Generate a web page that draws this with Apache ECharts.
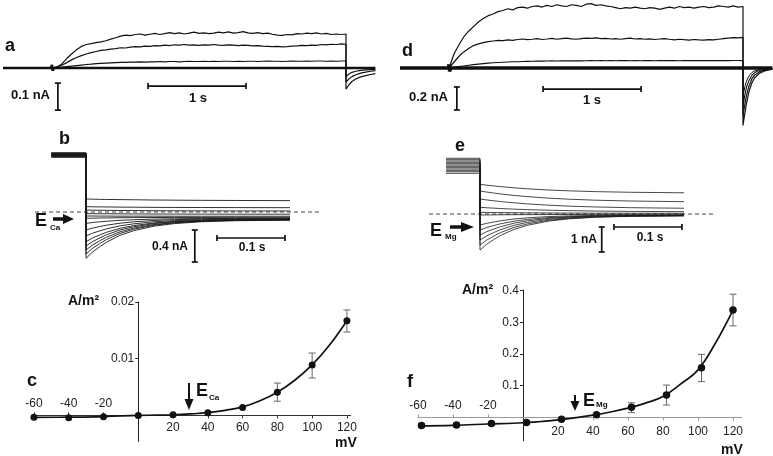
<!DOCTYPE html>
<html><head><meta charset="utf-8">
<script src="https://cdn.jsdelivr.net/npm/echarts@6/dist/echarts.min.js"></script>
<style>html,body{margin:0;padding:0;background:#fff}#chart{width:773px;height:456px}</style>
</head><body><div id="chart"></div>
<script>
const FONT = '"Liberation Sans", Arial, sans-serif';
const INK = '#111';

// ---------- panels a & d : long pulses (time s, current nA) ----------
const tPulse = [0,0.05,0.1,0.15,0.2,0.25,0.3,0.35,0.4,0.45,0.5,0.55,0.6,0.65,0.7,0.75,0.8,0.85,0.9,0.95,
  1,1.05,1.1,1.15,1.2,1.25,1.3,1.35,1.4,1.45,1.5,1.55,1.6,1.65,1.7,1.75,1.8,1.85,1.9,1.95,
  2,2.05,2.1,2.15,2.2,2.25,2.3,2.35,2.4,2.45,2.5,2.55,2.6,2.65,2.7,2.75,2.8,2.85,2.9,2.95,3];
const aTop = [0,0.004,0.015,0.035,0.052,0.068,0.080,0.087,0.090,0.094,
  0.097,0.101,0.107,0.112,0.118,0.122,0.120,0.124,0.126,0.122,
  0.125,0.128,0.124,0.127,0.131,0.127,0.130,0.126,0.129,0.133,
  0.128,0.130,0.127,0.129,0.133,0.130,0.134,0.129,0.131,0.135,
  0.130,0.128,0.131,0.127,0.129,0.125,0.122,0.121,0.124,0.123,
  0.127,0.126,0.129,0.127,0.130,0.126,0.128,0.124,0.126,0.124,0.126];
const aMid = [0,0.003,0.010,0.020,0.030,0.039,0.046,0.052,0.057,0.061,
  0.065,0.067,0.070,0.072,0.075,0.074,0.077,0.079,0.078,0.081,
  0.080,0.083,0.082,0.085,0.083,0.086,0.085,0.087,0.085,0.086,
  0.084,0.086,0.085,0.087,0.085,0.084,0.086,0.085,0.083,0.085,
  0.084,0.082,0.083,0.081,0.080,0.079,0.080,0.078,0.079,0.081,
  0.082,0.084,0.083,0.085,0.084,0.087,0.086,0.088,0.087,0.089,0.088];
const aLow = [0,0.001,0.003,0.005,0.007,0.009,0.011,0.013,0.014,0.016,
  0.017,0.018,0.019,0.020,0.021,0.021,0.022,0.022,0.023,0.022,
  0.023,0.023,0.024,0.023,0.024,0.024,0.023,0.024,0.025,0.024,
  0.024,0.025,0.024,0.025,0.024,0.025,0.025,0.024,0.025,0.024,
  0.025,0.025,0.024,0.025,0.026,0.025,0.025,0.024,0.025,0.026,
  0.025,0.025,0.026,0.025,0.026,0.026,0.025,0.026,0.025,0.026,0.026];
const tTailA = [3.0,3.01,3.03,3.06,3.1,3.15,3.2,3.25,3.3];
const aTopTail = [-0.078,-0.072,-0.062,-0.050,-0.041,-0.033,-0.028,-0.024,-0.021];
const aMidTail = [-0.052,-0.047,-0.040,-0.032,-0.025,-0.019,-0.015,-0.012,-0.010];
const aLowTail = [-0.033,-0.028,-0.022,-0.016,-0.012,-0.009,-0.007,-0.006,-0.005];
const tBase = [-0.5,-0.01,0,0.006,0.02,3.3];
const aBase = [0,0,0.012,-0.01,0,0];

const dTop = [0,0.120,0.200,0.270,0.320,0.360,0.400,0.430,0.455,0.470,
  0.490,0.500,0.515,0.505,0.525,0.530,0.520,0.535,0.540,0.530,
  0.545,0.535,0.550,0.540,0.535,0.550,0.545,0.535,0.555,0.560,
  0.545,0.550,0.540,0.535,0.525,0.515,0.525,0.520,0.530,0.520,
  0.515,0.525,0.520,0.510,0.520,0.530,0.520,0.535,0.525,0.530,
  0.520,0.530,0.535,0.525,0.530,0.540,0.535,0.530,0.540,0.530,0.535];
const dMid = [0,0.050,0.100,0.140,0.170,0.195,0.210,0.220,0.230,0.235,
  0.240,0.238,0.245,0.240,0.248,0.252,0.246,0.250,0.255,0.248,
  0.252,0.258,0.250,0.255,0.260,0.254,0.250,0.256,0.260,0.258,
  0.262,0.255,0.258,0.252,0.256,0.250,0.255,0.260,0.252,0.255,
  0.250,0.254,0.248,0.252,0.256,0.250,0.245,0.250,0.246,0.243,
  0.248,0.244,0.242,0.246,0.244,0.250,0.255,0.260,0.264,0.262,0.267];
const dLow = [0,0.006,0.012,0.018,0.024,0.029,0.034,0.038,0.042,0.045,
  0.048,0.050,0.052,0.054,0.055,0.057,0.058,0.059,0.060,0.060,
  0.061,0.062,0.061,0.062,0.063,0.062,0.063,0.062,0.063,0.064,
  0.063,0.064,0.063,0.064,0.063,0.064,0.064,0.063,0.064,0.063,
  0.064,0.064,0.063,0.064,0.065,0.064,0.064,0.063,0.064,0.065,
  0.064,0.064,0.065,0.064,0.065,0.064,0.065,0.064,0.065,0.065,0.064];
const tTailD = [3.0,3.01,3.02,3.035,3.06,3.09,3.12,3.17,3.22,3.3];
const dTopTail = [-0.50,-0.44,-0.39,-0.31,-0.21,-0.13,-0.085,-0.045,-0.025,-0.010];
const dMidTail = [-0.42,-0.36,-0.31,-0.24,-0.16,-0.095,-0.060,-0.032,-0.018,-0.008];
const dLowTail = [-0.34,-0.28,-0.23,-0.17,-0.11,-0.065,-0.040,-0.020,-0.012,-0.006];
const dBaseTail = [-0.25,-0.20,-0.16,-0.115,-0.07,-0.04,-0.025,-0.013,-0.008,-0.004];
const dBase = [0,0,0.03,-0.03,0,0];
const tBaseD2 = [-0.5,2.999];
const dBase2 = [0,0];

// ---------- panels b & e : tail currents (time s, current nA) ----------
const tStep = [0,0.01,0.02,0.03,0.05,0.07,0.1,0.13,0.17,0.22,0.3];
const bPre = [0.740,0.736,0.732,0.728,0.724,0.720,0.716,0.712,0.708,0.704,0.700,0.696,0.690,0.684];
const bTraces = [
  [0.163,0.160,0.158,0.157,0.155,0.153,0.150,0.148,0.146,0.144,0.142],
  [0.067,0.065,0.064,0.063,0.061,0.060,0.058,0.057,0.056,0.055,0.054],
  [0.025,0.023,0.022,0.021,0.019,0.018,0.016,0.015,0.014,0.013,0.013],
  [-0.020,-0.021,-0.022,-0.022,-0.023,-0.024,-0.025,-0.026,-0.026,-0.027,-0.027],
  [-0.050,-0.050,-0.051,-0.051,-0.052,-0.052,-0.052,-0.053,-0.053,-0.053,-0.053],
  [-0.079,-0.077,-0.075,-0.074,-0.072,-0.070,-0.069,-0.068,-0.068,-0.067,-0.067],
  [-0.142,-0.131,-0.123,-0.116,-0.104,-0.097,-0.089,-0.085,-0.082,-0.080,-0.079],
  [-0.225,-0.201,-0.182,-0.165,-0.140,-0.123,-0.106,-0.096,-0.089,-0.086,-0.084],
  [-0.300,-0.264,-0.237,-0.211,-0.173,-0.148,-0.122,-0.108,-0.098,-0.092,-0.089],
  [-0.371,-0.324,-0.287,-0.254,-0.204,-0.170,-0.137,-0.118,-0.105,-0.097,-0.093],
  [-0.425,-0.368,-0.325,-0.285,-0.225,-0.185,-0.145,-0.123,-0.107,-0.098,-0.093],
  [-0.475,-0.411,-0.361,-0.316,-0.248,-0.202,-0.157,-0.132,-0.113,-0.103,-0.098],
  [-0.525,-0.452,-0.396,-0.345,-0.268,-0.216,-0.165,-0.136,-0.115,-0.104,-0.098],
  [-0.579,-0.498,-0.435,-0.378,-0.292,-0.234,-0.177,-0.145,-0.122,-0.109,-0.102]
];
const ePre = [2.227,2.173,2.120,2.067,2.013,1.960,1.907,1.853,1.800,1.747,1.693,1.627];
const eTraces = [
  [1.187,1.153,1.122,1.095,1.047,1.007,0.961,0.927,0.895,0.870,0.848],
  [0.920,0.877,0.839,0.803,0.743,0.694,0.636,0.593,0.552,0.520,0.493],
  [0.600,0.563,0.529,0.499,0.447,0.404,0.354,0.316,0.281,0.253,0.230],
  [0.267,0.250,0.234,0.220,0.195,0.175,0.152,0.135,0.118,0.105,0.094],
  [0.067,0.063,0.060,0.057,0.051,0.047,0.042,0.038,0.034,0.031,0.029],
  [-0.040,-0.037,-0.035,-0.032,-0.028,-0.025,-0.022,-0.019,-0.017,-0.015,-0.013],
  [-0.440,-0.372,-0.320,-0.272,-0.200,-0.152,-0.104,-0.078,-0.058,-0.047,-0.042],
  [-0.640,-0.540,-0.464,-0.393,-0.288,-0.217,-0.147,-0.108,-0.079,-0.064,-0.055],
  [-0.840,-0.706,-0.604,-0.509,-0.368,-0.273,-0.179,-0.127,-0.088,-0.067,-0.056],
  [-1.040,-0.873,-0.746,-0.628,-0.452,-0.334,-0.217,-0.152,-0.104,-0.078,-0.064],
  [-1.240,-1.041,-0.888,-0.747,-0.536,-0.395,-0.255,-0.177,-0.120,-0.088,-0.072],
  [-1.440,-1.207,-1.028,-0.863,-0.616,-0.451,-0.287,-0.196,-0.129,-0.092,-0.072]
];

// ---------- panels c & f : I-V (mV, A/m2) ----------
const mvC = [-60,-40,-20,0,20,40,60,80,100,120];
const iC = [-0.00034,-0.0004,-0.00023,0,0.00012,0.00048,0.0014,0.0041,0.0089,0.0167];
const errHiC = [null,null,null,null,null,null,null,0.0057,0.011,0.0186];
const errLoC = [null,null,null,null,null,null,null,0.0025,0.0066,0.0147];
const fitMvC = [-60,-40,-20,0,10,20,30,40,50,60,70,80,90,100,110,120];
const fitIC = [-0.00035,-0.0003,-0.0002,0,0.00005,0.00012,0.00026,0.00048,0.0009,0.0015,0.0026,0.0041,0.0062,0.0089,0.0124,0.0167];
const mvF = [-58,-38,-18,2,22,42,62,82,102,120];
const iF = [-0.026,-0.024,-0.019,-0.016,-0.006,0.008,0.032,0.071,0.157,0.339];
const errHiF = [-0.020,-0.018,-0.013,-0.010,null,null,0.046,0.102,0.199,0.389];
const errLoF = [-0.032,-0.030,-0.025,-0.022,null,null,0.015,0.039,0.113,0.289];
const fitMvF = [-60,-40,-20,0,10,20,30,40,50,60,70,80,90,100,110,120];
const fitIF = [-0.027,-0.025,-0.021,-0.017,-0.013,-0.008,-0.001,0.007,0.017,0.029,0.045,0.066,0.105,0.150,0.235,0.339];
const ticksNeg = [-60,-40,-20];
const ticksPos = [20,40,60,80,100,120];
const yTicksC = [0.01,0.02];
const yTicksF = [0.1,0.2,0.3,0.4];

// ---------- scale bars (data units of each panel) ----------
const scaleA = {v:[0.06,-0.056,-0.156], h:[0.98,1.98,-0.067]};
const scaleD = {v:[0.08,-0.165,-0.365], h:[0.96,1.96,-0.183]};
const scaleB = {v:[0.16,-0.225,-0.625], h:[0.1926,0.2926,-0.325]};
const scaleE = {v:[0.179,-0.52,-1.52], h:[0.197,0.297,-0.52]};

// ---------- builders ----------
function pulseTrace(vals, tailT, tailV){
  const d=[[-0.5,0],[0,0]];
  tPulse.forEach((t,i)=>d.push([t,vals[i]]));
  tailT.forEach((t,i)=>d.push([t,tailV[i]]));
  return d;
}
function stepTrace(pre, tPre, vals){
  const d=[[tPre,pre],[0,pre]];
  tStep.forEach((t,i)=>d.push([t,vals[i]]));
  return d;
}
function line(data, xi, yi, width, color, extra){
  return Object.assign({type:'line', xAxisIndex:xi, yAxisIndex:yi, data:data, symbol:'none',
    lineStyle:{color:color||INK, width:width}, silent:true, clip:false, z:2}, extra||{});
}
const barStyle={stroke:INK, lineWidth:1.7};
function seg(x1,y1,x2,y2,st){return {type:'line', shape:{x1:x1,y1:y1,x2:x2,y2:y2}, style:st||barStyle};}
function vBar(xi, yi, item){
  return {type:'custom', xAxisIndex:xi, yAxisIndex:yi, data:[item], encode:{x:0,y:[1,2]}, silent:true, clip:false,
    renderItem:function(p,api){
      const a=api.coord([api.value(0),api.value(1)]), b=api.coord([api.value(0),api.value(2)]), c=3;
      return {type:'group', children:[seg(a[0],a[1],b[0],b[1]),seg(a[0]-c,a[1],a[0]+c,a[1]),seg(b[0]-c,b[1],b[0]+c,b[1])]};
    }};
}
function hBar(xi, yi, item){
  return {type:'custom', xAxisIndex:xi, yAxisIndex:yi, data:[item], encode:{x:[0,1],y:2}, silent:true, clip:false,
    renderItem:function(p,api){
      const a=api.coord([api.value(0),api.value(2)]), b=api.coord([api.value(1),api.value(2)]), c=3;
      return {type:'group', children:[seg(a[0],a[1],b[0],b[1]),seg(a[0],a[1]-c,a[0],a[1]+c),seg(b[0],b[1]-c,b[0],b[1]+c)]};
    }};
}
function errBars(xi, yi, xs, lo, hi){
  const data=[];
  xs.forEach((x,i)=>{ if(lo[i]!=null) data.push([x,lo[i],hi[i]]); });
  const st={stroke:'#666', lineWidth:1};
  return {type:'custom', xAxisIndex:xi, yAxisIndex:yi, data:data, encode:{x:0,y:[1,2]}, silent:true, z:1,
    renderItem:function(p,api){
      const a=api.coord([api.value(0),api.value(1)]), b=api.coord([api.value(0),api.value(2)]), c=3.5;
      return {type:'group', children:[seg(a[0],a[1],b[0],b[1],st),seg(a[0]-c,a[1],a[0]+c,a[1],st),seg(b[0]-c,b[1],b[0]+c,b[1],st)]};
    }};
}

// ---------- grids & axes ----------
const grids = [
  {left:3, top:27.5, width:372.4, height:94.5},        // a
  {left:400, top:0.15, width:372.4, height:131.1},     // d
  {left:35, top:151.2, width:285.6, height:112.8},     // b
  {left:429, top:154, width:285.6, height:100},        // e
  {left:32.2, top:302, width:318.2, height:139.5},     // c
  {left:418, top:290.1, width:323.75, height:150.7}    // f
].map(g=>Object.assign({outerBoundsMode:'none', containLabel:false}, g));

function hiddenX(gi,min,max){return {gridIndex:gi,type:'value',min:min,max:max,show:false};}
function hiddenY(gi,min,max){return {gridIndex:gi,type:'value',min:min,max:max,show:false};}
const lab = {color:'#222', fontSize:12, fontFamily:FONT};
function ivX(gi, min, max, pos, vals, color, margin){
  return {gridIndex:gi, type:'value', min:min, max:max, position:pos, offset:0, splitLine:{show:false},
    axisLine:{show:true, onZero:false, lineStyle:{color:color, width:1}},
    axisTick:{show:true, length:3, customValues:vals, lineStyle:{color:color}},
    axisLabel:Object.assign({customValues:vals, margin:margin, formatter:v=>String(v)}, lab)};
}
function ivY(gi, min, max, vals, dec){
  return {gridIndex:gi, type:'value', min:min, max:max, position:'left', offset:0, splitLine:{show:false},
    axisLine:{show:true, onZero:false, lineStyle:{color:'#222', width:1}},
    axisTick:{show:true, length:3, customValues:vals, lineStyle:{color:'#222'}},
    axisLabel:Object.assign({customValues:vals, margin:4, formatter:v=>v.toFixed(dec)}, lab)};
}
const xAxes = [
  hiddenX(0,-0.5,3.3), hiddenX(1,-0.5,3.3), hiddenX(2,-0.075,0.345), hiddenX(3,-0.075,0.345),
  ivX(4,-61,122,'bottom',ticksPos,'#333',6), ivX(4,-61,122,'top',ticksNeg,'#333',6),
  ivX(5,-60,125,'bottom',ticksPos,'#999',8), ivX(5,-60,125,'top',ticksNeg,'#999',6)
];
const yAxes = [
  hiddenY(0,-0.2,0.15), hiddenY(1,-0.55,0.59), hiddenY(2,-0.65,0.76), hiddenY(3,-1.6,2.4),
  ivY(4,-0.0046,0.02,yTicksC,2), ivY(5,-0.074,0.402,yTicksF,1)
];

// ---------- series ----------
const series = [];
// a
series.push(line(tBase.map((t,i)=>[t,aBase[i]]),0,0,2.6));
series.push(line(pulseTrace(aLow,tTailA,aLowTail),0,0,1.2));
series.push(line(pulseTrace(aMid,tTailA,aMidTail),0,0,1.2));
series.push(line(pulseTrace(aTop,tTailA,aTopTail),0,0,1.2));
series.push(vBar(0,0,scaleA.v), hBar(0,0,scaleA.h));
// d
const dBaseTrace = tBaseD2.map((t,i)=>[t,dBase2[i]]).concat(tTailD.map((t,i)=>[t,dBaseTail[i]]));
series.push(line(tBase.map((t,i)=>[t,dBase[i]]),1,1,3.4));
series.push(line(dBaseTrace,1,1,1));
series.push(line(pulseTrace(dLow,tTailD,dLowTail),1,1,1.1));
series.push(line(pulseTrace(dMid,tTailD,dMidTail),1,1,1.2));
series.push(line(pulseTrace(dTop,tTailD,dTopTail),1,1,1.2));
series.push(vBar(1,1,scaleD.v), hBar(1,1,scaleD.h));
// b
series.push(line([[-0.075,0],[0.345,0]],2,2,1,'#444',{lineStyle:{color:'#444',width:1,type:[4,3]}}));
bTraces.forEach((v,i)=>series.push(line(stepTrace(bPre[i],-0.051,v),2,2,0.9,'#1a1a1a')));
series.push(vBar(2,2,scaleB.v), hBar(2,2,scaleB.h));
// e
series.push(line([[-0.075,0],[0.345,0]],3,3,1,'#444',{lineStyle:{color:'#444',width:1,type:[4,3]}}));
eTraces.forEach((v,i)=>series.push(line(stepTrace(ePre[i],-0.05,v),3,3,0.8,'#1a1a1a')));
series.push(vBar(3,3,scaleE.v), hBar(3,3,scaleE.h));
// c
series.push(errBars(4,4,mvC,errLoC,errHiC));
series.push(line(fitMvC.map((x,i)=>[x,fitIC[i]]),4,4,1.7,INK,{smooth:0.4, z:3}));
series.push({type:'scatter', xAxisIndex:4, yAxisIndex:4, data:mvC.map((x,i)=>[x,iC[i]]),
  symbol:'circle', symbolSize:7, itemStyle:{color:INK, opacity:1}, silent:true, z:4});
// f
series.push(errBars(6,5,mvF,errLoF,errHiF));
series.push(line(fitMvF.map((x,i)=>[x,fitIF[i]]),6,5,1.7,INK,{smooth:0.4, z:3}));
series.push({type:'scatter', xAxisIndex:6, yAxisIndex:5, data:mvF.map((x,i)=>[x,iF[i]]),
  symbol:'circle', symbolSize:7.5, itemStyle:{color:INK, opacity:1}, silent:true, z:4});

// ---------- annotations ----------
function txt(s, x, y, size, align, extra){
  return Object.assign({type:'text', x:x, y:y, silent:true, z:10,
    style:{text:s, fill:INK, font:'bold '+size+'px '+FONT, align:align||'left', verticalAlign:'middle'}}, extra||{});
}
const graphics = [
  txt('a',5,46,18), txt('d',402,51,18), txt('b',59,139,18), txt('e',455,146,18), txt('c',27,381,18), txt('f',407,382,18),
  txt('0.1 nA',50,95,13,'right'), txt('1 s',198,98,13,'center'),
  txt('0.2 nA',448,97,13,'right'), txt('1 s',592,100,13,'center'),
  txt('0.4 nA',188,247,12,'right'), txt('0.1 s',252,248,12,'center'),
  txt('1 nA',597,240,12,'right'), txt('0.1 s',650,238,12,'center'),
  txt('E',35,221,18), txt('Ca',50,228,8),
  txt('E',430,231,18), txt('Mg',445,237,8),
  txt('E',196,391,18), txt('Ca',209,397.5,8),
  txt('E',583,401,18), txt('Mg',596,404.5,8),
  txt('A/m²',68,301,14), txt('A/m²',462,290,14),
  txt('mV',346,443,14,'center'), txt('mV',732,450,14,'center'),
  {type:'line', shape:{x1:53,y1:219,x2:65,y2:219}, style:{stroke:INK,lineWidth:3.5}, silent:true},
  {type:'polygon', shape:{points:[[63,214],[63,224],[74,219]]}, style:{fill:INK}, silent:true},
  {type:'line', shape:{x1:450,y1:227,x2:463,y2:227}, style:{stroke:INK,lineWidth:3.5}, silent:true},
  {type:'polygon', shape:{points:[[461,222],[461,232],[474,227]]}, style:{fill:INK}, silent:true},
  {type:'line', shape:{x1:189,y1:383,x2:189,y2:401}, style:{stroke:INK,lineWidth:2}, silent:true},
  {type:'polygon', shape:{points:[[184.5,399],[193.5,399],[189,410]]}, style:{fill:INK}, silent:true},
  {type:'line', shape:{x1:575,y1:395,x2:575,y2:403}, style:{stroke:INK,lineWidth:2}, silent:true},
  {type:'polygon', shape:{points:[[570.5,401],[579.5,401],[575,411]]}, style:{fill:INK}, silent:true}
];

const chart = echarts.init(document.getElementById('chart'), null, {renderer:'canvas'});
chart.setOption({
  animation:false, backgroundColor:'#fff',
  grid:grids, xAxis:xAxes, yAxis:yAxes, series:series, graphic:graphics
});
// move the I-V axes so they cross at the origin (positions taken from the library's own scales)
function crossAtZero(gi, xb, xt, yi){
  const p = chart.convertToPixel({gridIndex:gi}, [0,0]);
  const g = grids[gi];
  xAxes[xb].offset = p[1] - (g.top + g.height);
  xAxes[xt].offset = g.top - p[1];
  yAxes[yi].offset = g.left - p[0];
}
crossAtZero(4,4,5,4);
crossAtZero(5,6,7,5);
chart.setOption({xAxis:xAxes, yAxis:yAxes});
</script></body></html>
